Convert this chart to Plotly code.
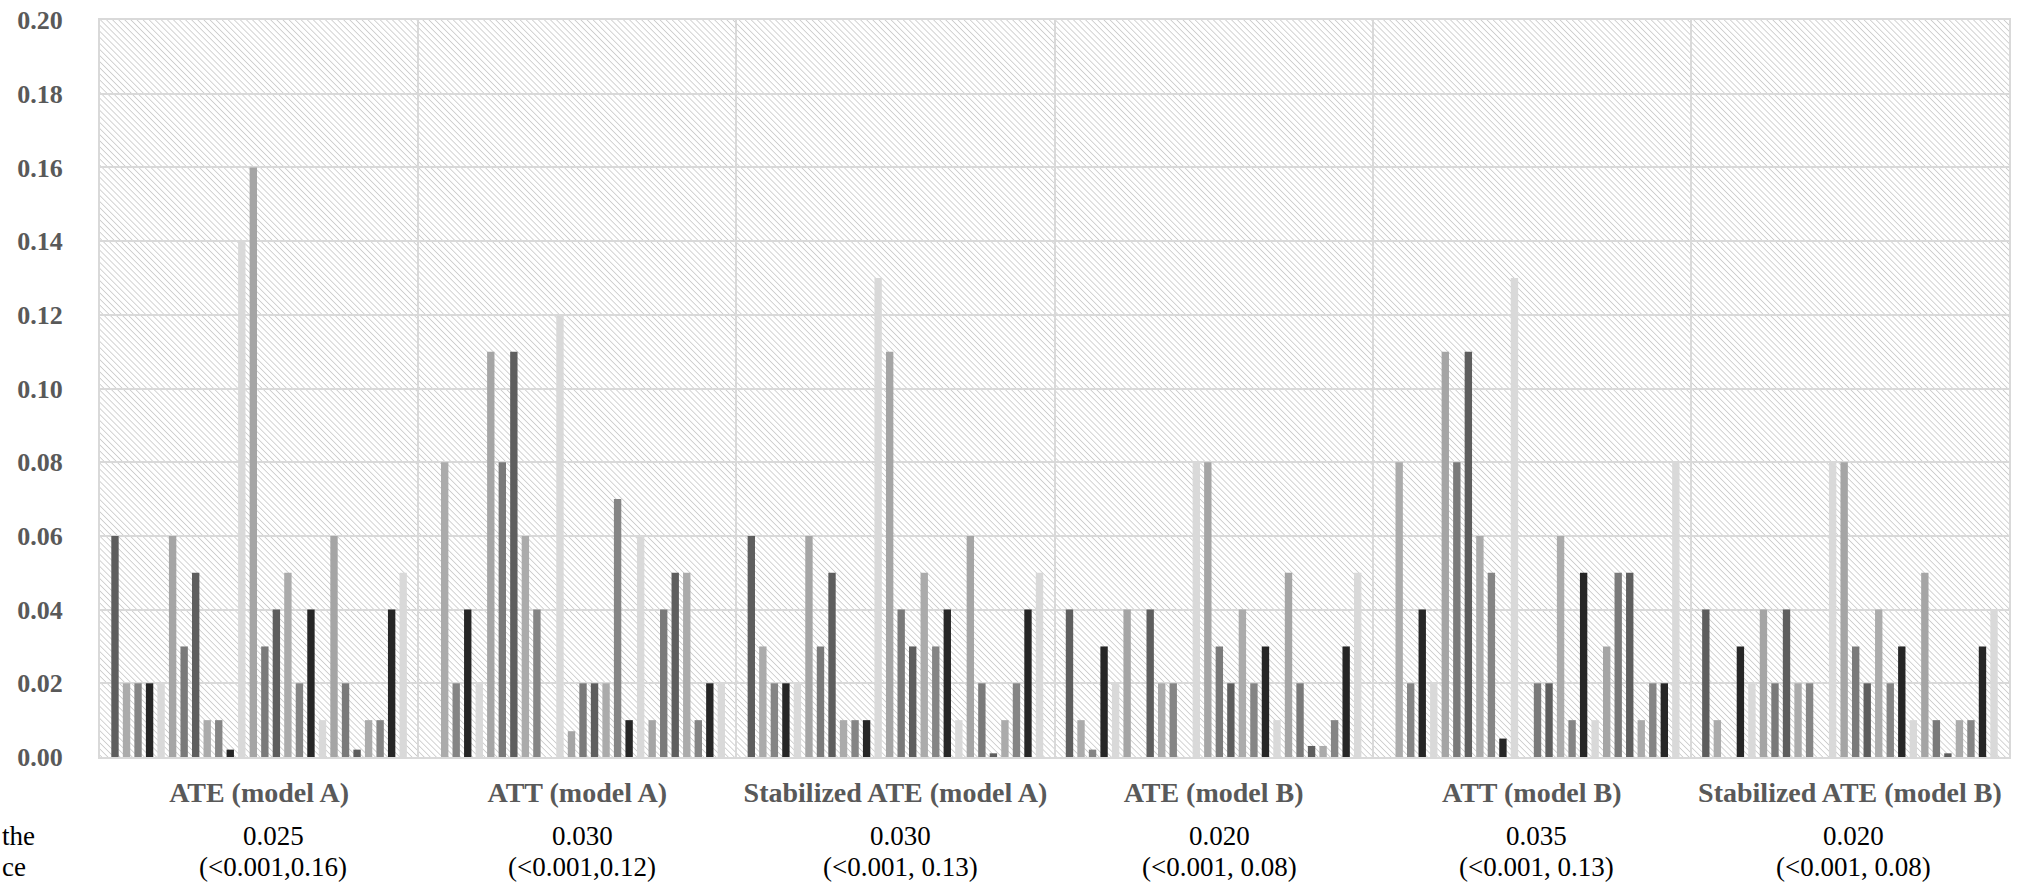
import base64
import plotly.graph_objects as go

# ---------------- data ----------------
categories = ["ATE (model A)", "ATT (model A)", "Stabilized ATE (model A)",
              "ATE (model B)", "ATT (model B)", "Stabilized ATE (model B)"]

ate_model_a = [0.06, 0.02, 0.02, 0.02, 0.02, 0.06, 0.03, 0.05, 0.01, 0.01, 0.002, 0.14, 0.16,
               0.03, 0.04, 0.05, 0.02, 0.04, 0.01, 0.06, 0.02, 0.002, 0.01, 0.01, 0.04, 0.05]
att_model_a = [0.0, 0.08, 0.02, 0.04, 0.02, 0.11, 0.08, 0.11, 0.06, 0.04, 0.0, 0.12, 0.007,
               0.02, 0.02, 0.02, 0.07, 0.01, 0.06, 0.01, 0.04, 0.05, 0.05, 0.01, 0.02, 0.02]
stab_ate_model_a = [0.06, 0.03, 0.02, 0.02, 0.02, 0.06, 0.03, 0.05, 0.01, 0.01, 0.01, 0.13, 0.11,
                    0.04, 0.03, 0.05, 0.03, 0.04, 0.01, 0.06, 0.02, 0.001, 0.01, 0.02, 0.04, 0.05]
ate_model_b = [0.04, 0.01, 0.002, 0.03, 0.02, 0.04, 0.0, 0.04, 0.02, 0.02, 0.0, 0.08, 0.08,
               0.03, 0.02, 0.04, 0.02, 0.03, 0.01, 0.05, 0.02, 0.003, 0.003, 0.01, 0.03, 0.05]
att_model_b = [0.0, 0.08, 0.02, 0.04, 0.02, 0.11, 0.08, 0.11, 0.06, 0.05, 0.005, 0.13, 0.0,
               0.02, 0.02, 0.06, 0.01, 0.05, 0.01, 0.03, 0.05, 0.05, 0.01, 0.02, 0.02, 0.08]
stab_ate_model_b = [0.04, 0.01, 0.0, 0.03, 0.02, 0.04, 0.02, 0.04, 0.02, 0.02, 0.0, 0.08, 0.08,
                    0.03, 0.02, 0.04, 0.02, 0.03, 0.01, 0.05, 0.01, 0.001, 0.01, 0.01, 0.03, 0.04]

medians = ["0.025", "0.030", "0.030", "0.020", "0.035", "0.020"]
ranges = ["(<0.001,0.16)", "(<0.001,0.12)", "(<0.001, 0.13)",
          "(<0.001, 0.08)", "(<0.001, 0.13)", "(<0.001, 0.08)"]

y_ticks = [0.00, 0.02, 0.04, 0.06, 0.08, 0.10, 0.12, 0.14, 0.16, 0.18, 0.20]

# ---------------- style ----------------
palette = ["#5e5e5e", "#ababab", "#858585", "#262626", "#d9d9d9", "#a5a5a5", "#7a7a7a"]
FONT = "Liberation Serif"
W, H = 2018, 884
ML, MR, MT, MB = 100, 9, 20, 127
PW, PH = W - ML - MR, H - MT - MB
col_shift = [14, 5, 5, 6, 5, 4]   # the stats row sits slightly right of each column centre

groups = [ate_model_a, att_model_a, stab_ate_model_a, ate_model_b, att_model_b, stab_ate_model_b]
n_series = len(ate_model_a)

fig = go.Figure()
for i in range(n_series):
    fig.add_trace(go.Bar(
        x=categories,
        y=[g[i] for g in groups],
        name=f"Series {i + 1}",
        marker=dict(color=palette[i % len(palette)], line=dict(width=0)),
        showlegend=False,
    ))

# hatched plot background (SVG pattern)
svg = (f'<svg xmlns="http://www.w3.org/2000/svg" width="{PW}" height="{PH}" '
       f'viewBox="0 0 {PW} {PH}" preserveAspectRatio="none">'
       '<defs><pattern id="h" width="4.3" height="4.3" patternUnits="userSpaceOnUse" '
       'patternTransform="rotate(-45)">'
       '<line x1="0" y1="0" x2="0" y2="4.3" stroke="#c9c9c9" stroke-width="1.6"/>'
       '</pattern></defs>'
       f'<rect width="{PW}" height="{PH}" fill="#ffffff"/>'
       f'<rect width="{PW}" height="{PH}" fill="url(#h)"/></svg>')
src = "data:image/svg+xml;base64," + base64.b64encode(svg.encode()).decode()

val_font = dict(family=FONT, size=27, color="#000000")
annotations = []
for cat, med, rng, sh in zip(categories, medians, ranges, col_shift):
    annotations.append(dict(x=cat, xref="x", y=-79 / PH, yref="paper", text=med, showarrow=False,
                            font=val_font, xanchor="center", yanchor="middle", xshift=sh))
    annotations.append(dict(x=cat, xref="x", y=-110 / PH, yref="paper", text=rng, showarrow=False,
                            font=val_font, xanchor="center", yanchor="middle", xshift=sh))
# cut-off row label fragments at the far left
annotations.append(dict(x=-ML / PW, xref="paper", y=-79 / PH, yref="paper", text="the",
                        showarrow=False, font=val_font, xanchor="left", yanchor="middle"))
annotations.append(dict(x=-ML / PW, xref="paper", y=-110 / PH, yref="paper", text="ce",
                        showarrow=False, font=val_font, xanchor="left", yanchor="middle"))

fig.update_layout(
    width=W, height=H,
    margin=dict(l=ML, r=MR, t=MT, b=MB, pad=0, autoexpand=False),
    paper_bgcolor="#ffffff",
    plot_bgcolor="rgba(0,0,0,0)",
    barmode="group",
    bargap=0.058,
    bargroupgap=0.36,
    showlegend=False,
    images=[dict(source=src, xref="paper", yref="paper", x=0, y=1, sizex=1, sizey=1,
                 xanchor="left", yanchor="top", sizing="stretch", layer="below")],
    annotations=annotations,
)

fig.update_xaxes(
    type="category",
    tickson="boundaries",
    showgrid=True, gridcolor="#d9d9d9", gridwidth=2,
    showline=True, linecolor="#d9d9d9", linewidth=2, mirror=True,
    ticks="", ticklabelstandoff=9, tickangle=0, automargin=False,
    tickfont=dict(family=FONT, size=28, color="#595959", weight="bold"),
)
fig.update_yaxes(
    range=[0, 0.2],
    tickvals=y_ticks,
    tickformat=".2f",
    showgrid=True, gridcolor="#d9d9d9", gridwidth=2,
    showline=True, linecolor="#d9d9d9", linewidth=2, mirror=True,
    zeroline=False, automargin=False,
    ticks="", ticklabelstandoff=30, ticklabeloverflow="allow",
    tickfont=dict(family=FONT, size=26, color="#595959", weight="bold"),
)

fig.write_html("out.html",
               config={"displayModeBar": False},
               post_script="document.body.style.margin='0';document.body.style.overflow='hidden';")
